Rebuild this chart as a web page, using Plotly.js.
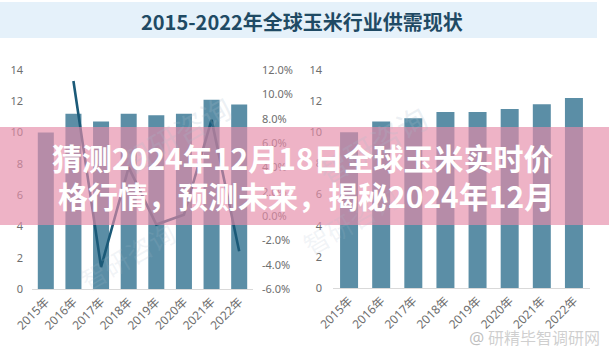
<!DOCTYPE html>
<html>
<head>
<meta charset="utf-8">
<script src="https://cdn.plot.ly/plotly-3.0.1.min.js"></script>
<style>html,body{margin:0;padding:0;background:#fff;}#chart{width:609px;height:352px;}</style>
</head>
<body>
<div id="chart"></div>
<script>
// ---- data ----
const years = ["2015年","2016年","2017年","2018年","2019年","2020年","2021年","2022年"];
const leftBars = [10.0, 11.2, 10.7, 11.2, 11.1, 11.2, 12.1, 11.8];
const leftRate = [null, 11.1, -4.2, 4.0, -0.7, 0.1, 7.9, -2.9];
const rightBars = [10.0, 10.7, 10.9, 11.3, 11.3, 11.5, 11.8, 12.2];
const leftTicks = [0, 2, 4, 6, 8, 10, 12, 14];
const rateTicks = [-6, -4, -2, 0, 2, 4, 6, 8, 10, 12];
const rateTickText = ["-6.0%","-4.0%","-2.0%","0.0%","2.0%","4.0%","6.0%","8.0%","10.0%","12.0%"];
const chartTitle = "2015-2022年全球玉米行业供需现状";
const bannerLine1 = "猜测2024年12月18日全球玉米实时价";
const bannerLine2 = "格行情，预测未来，揭秘2024年12月";
const watermark = "研精毕智调研网";
const faintMark = "智研咨询";

const barColor = "#5b8ea6";
const lineColor = "#1b5a78";
const tickColor = "#6e6e6e";
const baseFont = "Noto Sans, Noto Sans CJK SC, sans-serif";

const traces = [
  {type:"bar", x:years, y:leftBars, xaxis:"x", yaxis:"y", marker:{color:barColor}, width:0.58, hoverinfo:"skip"},
  {type:"scatter", mode:"lines", x:years, y:leftRate, xaxis:"x", yaxis:"y2", line:{color:lineColor, width:2.6}, connectgaps:false, hoverinfo:"skip"},
  {type:"bar", x:years, y:rightBars, xaxis:"x2", yaxis:"y3", marker:{color:barColor}, width:0.56, hoverinfo:"skip"}
];

const xCommon = {type:"category", showgrid:false, zeroline:false, showline:true, linecolor:"#d9d9d9", linewidth:1,
  ticks:"", tickangle:-45, tickfont:{family:baseFont, size:12, color:tickColor}, fixedrange:true};
const yCommon = {showgrid:false, zeroline:false, showline:false, ticks:"", tickfont:{family:baseFont, size:11, color:tickColor}, fixedrange:true};

const H = 352, W = 609;
const py = v => 1 - v / H;
const px = v => v / W;

const layout = {
  width:W, height:H, margin:{l:0, r:0, t:0, b:0}, showlegend:false,
  paper_bgcolor:"#ffffff", plot_bgcolor:"rgba(0,0,0,0)",
  xaxis: Object.assign({}, xCommon, {domain:[px(32), px(253)], anchor:"y"}),
  yaxis: Object.assign({}, yCommon, {domain:[py(289), py(70)], range:[0,14], tickmode:"array", tickvals:leftTicks, anchor:"x", ticklabelstandoff:8}),
  yaxis2: Object.assign({}, yCommon, {domain:[py(289), py(70)], range:[-6,12], tickmode:"array", tickvals:rateTicks, ticktext:rateTickText,
    overlaying:"y", side:"right", anchor:"x", ticklabelstandoff:8}),
  xaxis2: Object.assign({}, xCommon, {domain:[px(333), px(590)], anchor:"y3"}),
  yaxis3: Object.assign({}, yCommon, {domain:[py(288), py(70)], range:[0,14], tickmode:"array", tickvals:leftTicks, anchor:"x2", ticklabelstandoff:10}),
  shapes:[
    {type:"rect", xref:"paper", yref:"paper", x0:0, x1:px(597), y0:py(38), y1:py(2), fillcolor:"#e5f1fa", line:{width:0}, layer:"below"},
    {type:"rect", xref:"paper", yref:"paper", x0:0, x1:1, y0:py(225), y1:py(127), fillcolor:"rgba(229,140,168,0.66)", line:{width:0}, layer:"above"}
  ],
  annotations:[
    {text:faintMark, xref:"paper", yref:"paper", x:px(110), y:py(82), showarrow:false, textangle:-30,
      font:{family:"Noto Sans CJK SC", size:30, color:"rgba(170,190,205,0.22)"}},
    {text:faintMark, xref:"paper", yref:"paper", x:px(372), y:py(92), showarrow:false, textangle:-30,
      font:{family:"Noto Sans CJK SC", size:30, color:"rgba(170,190,205,0.22)"}},
    {text:faintMark, xref:"paper", yref:"paper", x:px(70), y:py(300), showarrow:false, textangle:-30,
      font:{family:"Noto Sans CJK SC", size:26, color:"rgba(170,190,205,0.16)"}},
    {text:faintMark, xref:"paper", yref:"paper", x:px(350), y:py(265), showarrow:false, textangle:-30,
      font:{family:"Noto Sans CJK SC", size:26, color:"rgba(170,190,205,0.16)"}},
    {text:chartTitle, xref:"paper", yref:"paper", x:px(302), y:py(21), xanchor:"center", yanchor:"middle", showarrow:false,
      font:{family:"Noto Sans CJK SC", size:20, color:"#1f4a64", weight:"bold"}},
    {text:bannerLine1, xref:"paper", yref:"paper", x:px(303), y:py(157), xanchor:"center", yanchor:"middle", showarrow:false,
      font:{family:"Noto Sans CJK SC", size:30, color:"#ffffff", weight:"bold"}},
    {text:bannerLine2, xref:"paper", yref:"paper", x:px(306), y:py(195), xanchor:"center", yanchor:"middle", showarrow:false,
      font:{family:"Noto Sans CJK SC", size:30, color:"#ffffff", weight:"bold"}},
    {text:"@", xref:"paper", yref:"paper", x:px(476), y:py(337), xanchor:"center", yanchor:"middle", showarrow:false,
      font:{family:baseFont, size:17, color:"rgba(150,150,150,0.6)"}},
    {text:watermark, xref:"paper", yref:"paper", x:px(544), y:py(337), xanchor:"center", yanchor:"middle", showarrow:false,
      font:{family:"Noto Sans CJK SC", size:16, color:"rgba(175,175,175,0.6)"}}
  ]
};

Plotly.newPlot("chart", traces, layout, {displayModeBar:false, staticPlot:true});
</script>
</body>
</html>
